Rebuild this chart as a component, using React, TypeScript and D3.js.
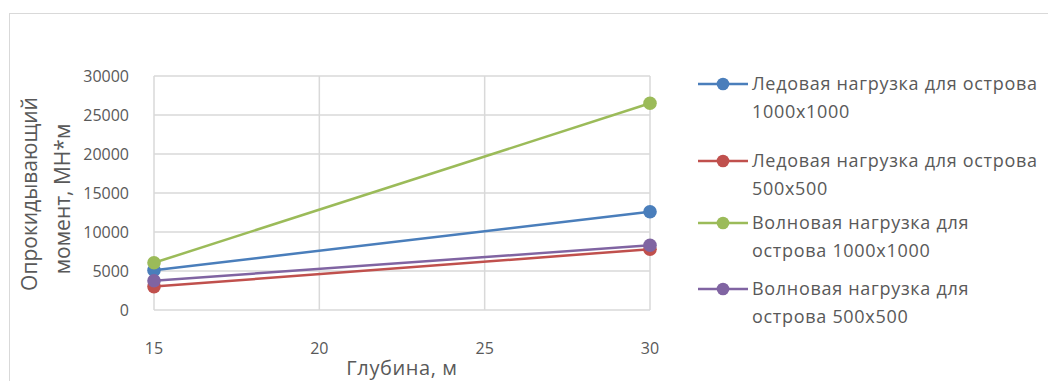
import React from "react";
import * as d3 from "d3";

const depths = [15, 30];
const xTicks = [15, 20, 25, 30];
const yTicks = [0, 5000, 10000, 15000, 20000, 25000, 30000];

const iceLoad1000 = [5100, 12600];
const iceLoad500 = [3000, 7800];
const waveLoad1000 = [6050, 26500];
const waveLoad500 = [3750, 8300];

const seriesNames = [
  ["Ледовая нагрузка для острова", "1000x1000"],
  ["Ледовая нагрузка для острова", "500x500"],
  ["Волновая нагрузка для", "острова 1000x1000"],
  ["Волновая нагрузка для", "острова 500x500"],
];
const seriesValues = [iceLoad1000, iceLoad500, waveLoad1000, waveLoad500];
const seriesColors = ["#4a7ebb", "#c0504d", "#9bbb59", "#8064a2"];
const legendY = [84, 161, 223, 289];

const yTitle = ["Опрокидывающий", "момент, МН*м"];
const xTitle = "Глубина, м";

const FONT = "'Open Sans', 'Noto Sans', sans-serif";
const TEXT = "#595959";
const GRID = "#d9d9d9";

export default function App() {
  const left = 154, right = 650, top = 76, bottom = 310;
  const x = d3.scaleLinear().domain([15, 30]).range([left, right]);
  const y = d3.scaleLinear().domain([0, 30000]).range([bottom, top]);
  const line = d3
    .line<[number, number]>()
    .x((d) => x(d[0]))
    .y((d) => y(d[1]));

  return (
    <svg
      width={1048}
      height={381}
      style={{ position: "absolute", left: 0, top: 0, background: "#fff" }}
      fontFamily={FONT}
    >
      <rect x={9.5} y={13.5} width={1100} height={400} fill="#fff" stroke={GRID} strokeWidth={1} />
      {yTicks.map((t) => (
        <line key={"gy" + t} x1={left} x2={right} y1={y(t)} y2={y(t)} stroke={GRID} strokeWidth={1.5} />
      ))}
      {xTicks.map((t) => (
        <line key={"gx" + t} x1={x(t)} x2={x(t)} y1={top} y2={bottom} stroke={GRID} strokeWidth={1.5} />
      ))}
      {yTicks.map((t) => (
        <text key={"ty" + t} x={129} y={y(t) + 6} textAnchor="end" fontSize={16} fill={TEXT}>
          {t}
        </text>
      ))}
      {xTicks.map((t) => (
        <text key={"tx" + t} x={x(t)} y={354} textAnchor="middle" fontSize={16} fill={TEXT}>
          {t}
        </text>
      ))}
      <text x={402} y={375} textAnchor="middle" fontSize={20} letterSpacing={0.6} fill={TEXT}>
        {xTitle}
      </text>
      <text transform={`translate(37,194) rotate(-90)`} textAnchor="middle" fontSize={21} fontWeight={500} fill={TEXT}>
        {yTitle[0]}
      </text>
      <text transform={`translate(70,199) rotate(-90)`} textAnchor="middle" fontSize={21} fontWeight={500} fill={TEXT}>
        {yTitle[1]}
      </text>
      {seriesValues.map((vals, i) => {
        const pts = depths.map((d, j) => [d, vals[j]] as [number, number]);
        return (
          <g key={"s" + i}>
            <path d={line(pts) || ""} fill="none" stroke={seriesColors[i]} strokeWidth={2.5} />
            {pts.map((p, j) => (
              <circle key={j} cx={x(p[0])} cy={y(p[1])} r={6.8} fill={seriesColors[i]} />
            ))}
          </g>
        );
      })}
      {seriesNames.map((nm, i) => (
        <g key={"l" + i}>
          <line x1={698} x2={748} y1={legendY[i]} y2={legendY[i]} stroke={seriesColors[i]} strokeWidth={2.5} />
          <circle cx={723} cy={legendY[i]} r={6.3} fill={seriesColors[i]} />
          <text x={752} y={legendY[i] + 6} fontSize={18} letterSpacing={0.7} fill={TEXT}>
            {nm[0]}
          </text>
          <text x={752} y={legendY[i] + 34} fontSize={18} letterSpacing={0.7} fill={TEXT}>
            {nm[1]}
          </text>
        </g>
      ))}
    </svg>
  );
}
